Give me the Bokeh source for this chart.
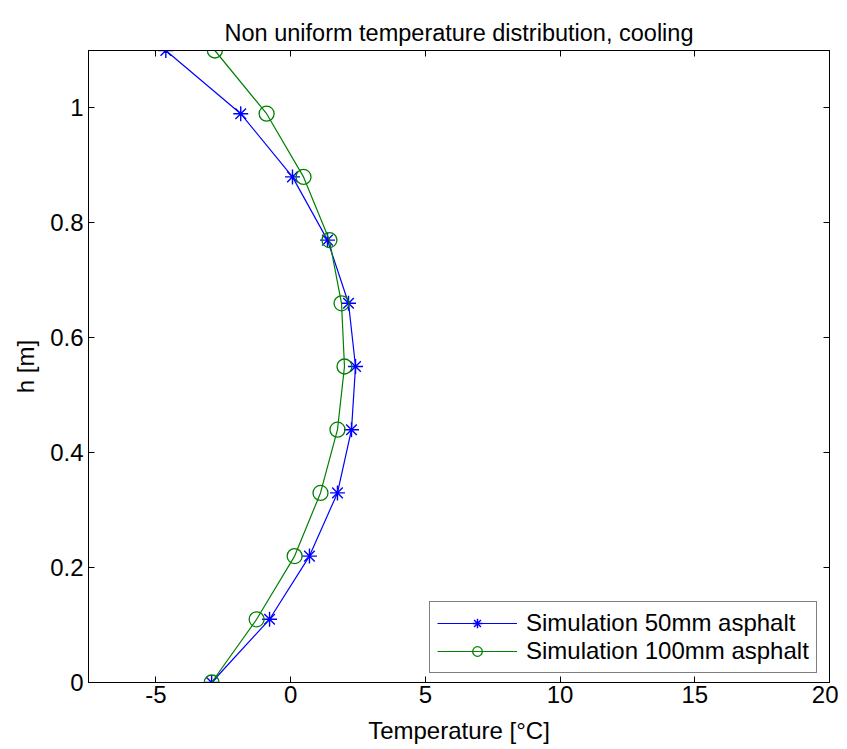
from bokeh.plotting import figure
from bokeh.models import (ColumnDataSource, LinearAxis, FixedTicker, Range1d,
                          CustomJSTickFormatter, Legend, LegendItem)
from bokeh.embed import file_html
from bokeh.resources import INLINE

# ---- data ----
h_values = [0.0, 0.11, 0.22, 0.33, 0.44, 0.55, 0.66, 0.77, 0.88, 0.99, 1.1]
temp_50mm = [-2.93, -0.78, 0.70, 1.74, 2.26, 2.41, 2.15, 1.37, 0.07, -1.85, -4.63]
temp_100mm = [-2.93, -1.26, 0.15, 1.11, 1.74, 2.0, 1.89, 1.44, 0.48, -0.89, -2.81]
series_names = ["Simulation 50mm asphalt", "Simulation 100mm asphalt"]
x_ticks = [-5, 0, 5, 10, 15, 20]
y_ticks = [0, 0.2, 0.4, 0.6, 0.8, 1.0]

FONT = "Liberation Sans"
FS = "24px"

p = figure(width=838, height=746, output_backend="svg", toolbar_location=None,
           x_range=Range1d(-7.5, 20), y_range=Range1d(0, 1.1),
           min_border_left=88, min_border_right=9, min_border_top=50,
           min_border_bottom=64,
           title="Non uniform temperature distribution, cooling")

p.title.text_font = FONT
p.title.text_font_size = "23.5px"
p.title.text_font_style = "normal"
p.title.align = "center"
p.title.vertical_align = "top"
p.title.text_color = "black"
p.title.standoff = 5

p.xgrid.visible = False
p.ygrid.visible = False
p.outline_line_color = "black"
p.outline_line_width = 1
p.background_fill_color = "white"
p.border_fill_color = "white"

fmt = CustomJSTickFormatter(code="return Number(tick.toFixed(2)).toString();")
blank_fmt = CustomJSTickFormatter(code="return '';")

def style_axis(ax, ticks, labels=True):
    ax.ticker = FixedTicker(ticks=ticks)
    ax.major_tick_in = 6
    ax.major_tick_out = 0
    ax.minor_tick_line_color = None
    ax.axis_line_color = "black"
    ax.major_tick_line_color = "black"
    ax.major_label_text_font = FONT
    ax.major_label_text_font_size = FS if labels else "1px"
    ax.major_label_text_color = "black"
    ax.axis_label_text_font = FONT
    ax.axis_label_text_font_size = FS
    ax.axis_label_text_font_style = "normal"
    ax.axis_label_text_color = "black"
    ax.formatter = fmt if labels else blank_fmt
    if not labels:
        ax.major_label_standoff = 0

style_axis(p.xaxis[0], x_ticks)
style_axis(p.yaxis[0], y_ticks)
p.xaxis[0].axis_label = "Temperature [°C]"
p.yaxis[0].axis_label = "h [m]"
p.xaxis[0].major_label_standoff = 3
p.yaxis[0].major_label_standoff = 5
p.xaxis[0].axis_label_standoff = 11
p.yaxis[0].axis_label_standoff = 8

top_ax = LinearAxis()
style_axis(top_ax, x_ticks, labels=False)
p.add_layout(top_ax, "above")
right_ax = LinearAxis()
style_axis(right_ax, y_ticks, labels=False)
p.add_layout(right_ax, "right")

src1 = ColumnDataSource(dict(x=temp_50mm, y=h_values))
src2 = ColumnDataSource(dict(x=temp_100mm, y=h_values))

blue = "#0000ff"
green = "#008000"

l1 = p.line("x", "y", source=src1, line_color=blue, line_width=1.2)
m1 = p.scatter("x", "y", source=src1, marker="asterisk", size=15,
               line_color=blue, line_width=1.4)
l2 = p.line("x", "y", source=src2, line_color=green, line_width=1.2)
m2 = p.scatter("x", "y", source=src2, marker="circle", size=15,
               line_color=green, fill_color=None, line_width=1.3)

legend = Legend(items=[LegendItem(label=series_names[0], renderers=[l1, m1]),
                       LegendItem(label=series_names[1], renderers=[l2, m2])],
                location=(341, 9))
legend.label_text_font = FONT
legend.label_text_font_size = FS
legend.label_text_color = "black"
legend.border_line_color = "black"
legend.border_line_width = 1
legend.background_fill_alpha = 1
legend.glyph_width = 80
legend.glyph_height = 24
legend.label_height = 24
legend.label_width = 282
legend.label_standoff = 9
legend.padding = 7
legend.spacing = 0
legend.margin = 0
p.add_layout(legend, "center")

open("out.html", "w").write(file_html(p, INLINE))
